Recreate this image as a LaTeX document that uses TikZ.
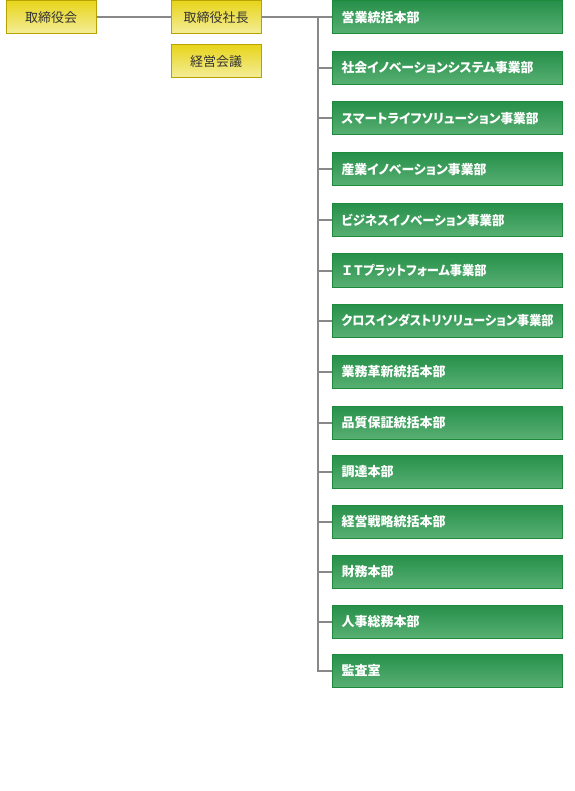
\documentclass[tikz,border=0pt]{standalone}
\usepackage{fontspec}
\usepackage{graphicx}
\newfontfamily\jp{Noto Sans CJK JP}
\newfontfamily\jpp[RawFeature=+palt]{Noto Sans CJK JP}
\newcommand{\kfit}[2]{\resizebox{#1}{\height}{#2}}
\definecolor{ydraw}{HTML}{B5A300}
\definecolor{ytop}{HTML}{E8D51C}
\definecolor{ybot}{HTML}{F4ED9A}
\definecolor{gdraw}{HTML}{1E8A3C}
\definecolor{gtop}{HTML}{27904A}
\definecolor{gbot}{HTML}{58B073}
\definecolor{lineg}{HTML}{888888}
\definecolor{ytext}{HTML}{333333}
\begin{document}
\begin{tikzpicture}[x=1pt,y=-1pt,
  ybox/.style={draw=ydraw,line width=1pt,top color=ytop,bottom color=ybot,
    minimum width=90pt,minimum height=33pt,inner sep=0pt,text=ytext,
    font=\jp\fontsize{13pt}{13pt}\selectfont},
  gbox/.style={draw=gdraw,line width=1pt,top color=gtop,bottom color=gbot,
    text width=212pt,inner xsep=9pt,inner ysep=0pt,minimum height=33pt,align=left,
    anchor=west,text=white,font=\jpp\bfseries\fontsize{13pt}{13pt}\selectfont},
  conn/.style={draw=lineg,line width=2pt}]
\useasboundingbox (0,0) rectangle (574,791);
\node[ybox] (board) at (51,17.5) {取締役会};
\node[ybox] (pres) at (216,17.5) {取締役社長};
\node[ybox] (mgmt) at (216,61.5) {経営会議};
\node[gbox] (g1) at (332,17.5) {営業統括本部};
\node[gbox] (g2) at (332,68) {\kfit{192pt}{社会イノベーションシステム事業部}};
\node[gbox] (g3) at (332,118.5) {\kfit{197pt}{スマートライフソリューション事業部}};
\node[gbox] (g4) at (332,169.5) {\kfit{145pt}{産業イノベーション事業部}};
\node[gbox] (g5) at (332,220) {\kfit{163pt}{ビジネスイノベーション事業部}};
\node[gbox] (g6) at (332,270.5) {\hspace{1pt}\kfit{144pt}{Ｉ\,Ｔプラットフォーム事業部}};
\node[gbox] (g7) at (332,320.5) {\kfit{212pt}{クロスインダストリソリューション事業部}};
\node[gbox] (g8) at (332,372) {業務革新統括本部};
\node[gbox] (g9) at (332,422.5) {品質保証統括本部};
\node[gbox] (g10) at (332,471.5) {調達本部};
\node[gbox] (g11) at (332,521.5) {経営戦略統括本部};
\node[gbox] (g12) at (332,572) {財務本部};
\node[gbox] (g13) at (332,622) {人事総務本部};
\node[gbox] (g14) at (332,670.5) {監査室};
\coordinate (spine) at (318,17.5);
\draw[conn] (board.east) -- (pres.west);
\draw[conn] (pres.east) -- (g1.west);
\foreach \k in {2,...,14}{\draw[conn] (spine) |- (g\k.west);}
\end{tikzpicture}
\end{document}
